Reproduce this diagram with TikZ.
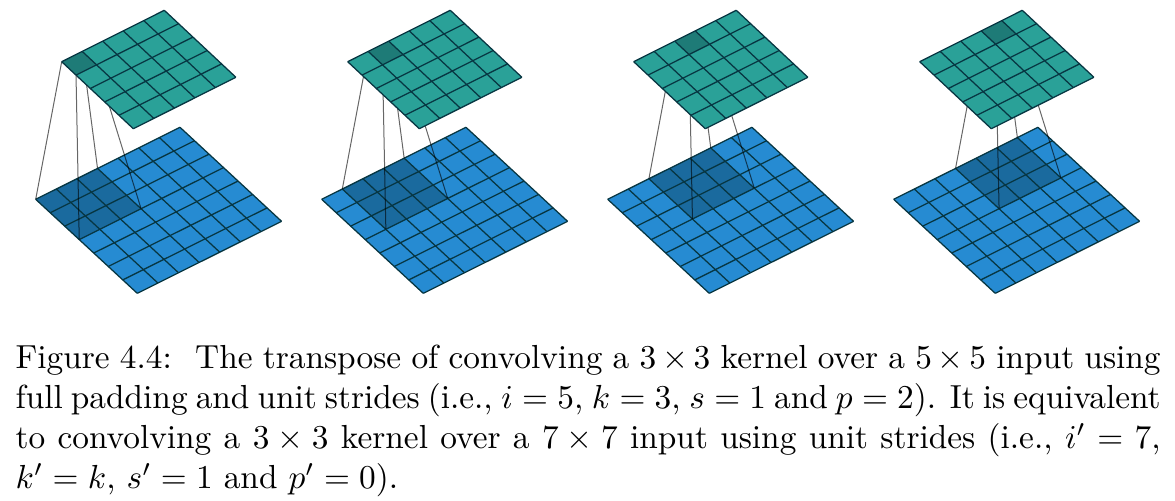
\documentclass[tikz,border=0pt]{standalone}
\definecolor{bluecell}{HTML}{268BD2}
\definecolor{bluekern}{HTML}{1A6A9E}
\definecolor{tealcell}{HTML}{2AA198}
\definecolor{tealkern}{HTML}{1E7B77}
\definecolor{gridline}{HTML}{073642}
\tikzset{
  blueplane/.style={shift={(#1+35.7,199.3)},x={(6.184pt,3.086pt)},y={(4.354pt,-4.03pt)}},
  tealplane/.style={shift={(#1+61.7,61.7)},x={(6.156pt,3.084pt)},y={(4.296pt,-4.02pt)}},
  gridpen/.style={draw=gridline,line width=0.38pt,line join=round},
  linkpen/.style={draw=black,draw opacity=0.6,line width=0.3pt},
  capt/.style={anchor=north west,inner sep=0pt,text width=343.5pt,align=justify,font=\normalsize}
}
\begin{document}
\begin{tikzpicture}[x=0.3pt,y=-0.3pt]
\useasboundingbox (0,0) rectangle (1175,501);
\foreach \k in {0,1,2,3}{
  \pgfmathsetmacro{\off}{286*\k}
  \pgfmathtruncatemacro{\kr}{\k+1}
  \pgfmathtruncatemacro{\kb}{\k+3}
  % input plane with the shaded kernel
  \begin{scope}[blueplane=\off]
    \fill[bluecell] (0,0) -- (7,0) -- (7,7) -- (0,7) -- cycle;
    \fill[bluekern] (\k,0) -- (\kb,0) -- (\kb,3) -- (\k,3) -- cycle;
    \foreach \i in {0,...,7}{
      \draw[gridpen] (\i,0) -- (\i,7);
      \draw[gridpen] (0,\i) -- (7,\i);
    }
    \coordinate (ba\k) at (\k,0);
    \coordinate (bb\k) at (\kb,0);
    \coordinate (bc\k) at (\kb,3);
    \coordinate (bd\k) at (\k,3);
  \end{scope}
  % corners of the output cell
  \begin{scope}[tealplane=\off]
    \coordinate (ta\k) at (\k,0);
    \coordinate (tb\k) at (\kr,0);
    \coordinate (tc\k) at (\kr,1);
    \coordinate (td\k) at (\k,1);
  \end{scope}
  % connectors pass under the output plane
  \draw[linkpen] (ta\k) -- (ba\k);
  \draw[linkpen] (tb\k) -- (bb\k);
  \draw[linkpen] (tc\k) -- (bc\k);
  \draw[linkpen] (td\k) -- (bd\k);
  % output plane
  \begin{scope}[tealplane=\off]
    \fill[tealcell] (0,0) -- (5,0) -- (5,5) -- (0,5) -- cycle;
    \fill[tealkern] (\k,0) -- (\kr,0) -- (\kr,1) -- (\k,1) -- cycle;
    \foreach \i in {0,...,5}{
      \draw[gridpen] (\i,0) -- (\i,5);
      \draw[gridpen] (0,\i) -- (5,\i);
    }
  \end{scope}
}
\node[capt] (caption) at (15,344) {Figure 4.4:\hspace{0.7em}The transpose of convolving a $3\times3$ kernel over a $5\times5$ input using\linebreak
full padding and unit strides (i.e., $i=5$, $k=3$, $s=1$ and $p=2$). It is equivalent\linebreak
to convolving a $3\times3$ kernel over a $7\times7$ input using unit strides (i.e., $i'=7$,\linebreak
$k'=k$, $s'=1$ and $p'=0$).};
\end{tikzpicture}
\end{document}
